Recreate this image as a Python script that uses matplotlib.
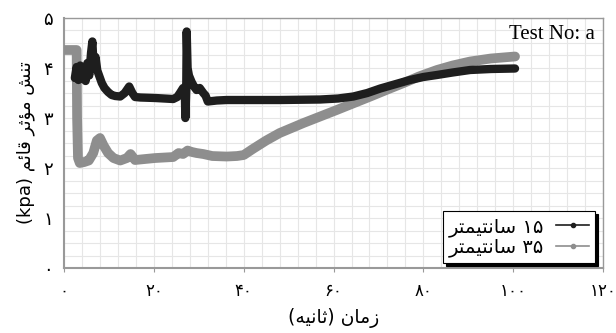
import matplotlib
matplotlib.use("Agg")
import matplotlib.pyplot as plt
from matplotlib.lines import Line2D
from matplotlib.ticker import MultipleLocator

# ---- Persian shaping (presentation forms, visual order) ----
# isolated, final, initial, medial
FORMS = {
    "ت": "\uFE95\uFE96\uFE97\uFE98",
    "ن": "\uFEE5\uFEE6\uFEE7\uFEE8",
    "ش": "\uFEB5\uFEB6\uFEB7\uFEB8",
    "م": "\uFEE1\uFEE2\uFEE3\uFEE4",
    "ث": "\uFE99\uFE9A\uFE9B\uFE9C",
    "ق": "\uFED5\uFED6\uFED7\uFED8",
    "ئ": "\uFE89\uFE8A\uFE8B\uFE8C",
    "س": "\uFEB1\uFEB2\uFEB3\uFEB4",
    "ه": "\uFEE9\uFEEA\uFEEB\uFEEC",
    "ی": "\uFBFC\uFBFD\uFEF3\uFEF4",
    "ا": "\uFE8D\uFE8E",
    "ر": "\uFEAD\uFEAE",
    "ز": "\uFEAF\uFEB0",
    "ؤ": "\uFE85\uFE86",
}


def fa(word):
    out = []
    for i, ch in enumerate(word):
        f = FORMS[ch]
        prev = word[i - 1] if i > 0 else None
        nxt = word[i + 1] if i + 1 < len(word) else None
        jp = prev is not None and len(FORMS[prev]) == 4
        jn = len(f) == 4 and nxt is not None
        if jp and jn:
            out.append(f[3])
        elif jp:
            out.append(f[1])
        elif jn:
            out.append(f[2])
        else:
            out.append(f[0])
    return "".join(out[::-1])


# ---- data ----
x_15 = [2.4, 2.8, 3.2, 3.6, 4.0, 4.4, 4.8, 5.2, 5.6, 6.0, 6.3, 6.6, 7.0, 7.4,
        7.8, 8.4, 9.0, 9.8, 10.6, 11.4, 12.5, 13.5, 14.5, 15.2, 15.8, 17,
        20.3, 24.3, 25.2, 25.8, 26.5, 26.9, 27.0, 27.2, 27.3, 27.5, 27.8, 28.4,
        29.0, 29.5, 30.2, 31.0, 31.5, 32.0, 34, 36.2, 42, 48, 57, 61, 64.4,
        67.5, 70.4, 73.5, 77, 80, 83, 86.5, 90.4, 95, 100.4]
y_15 = [3.8, 4.02, 3.76, 4.05, 3.78, 4.0, 3.74, 4.1, 3.85, 4.3, 4.53, 4.0,
        4.22, 3.95, 3.85, 3.7, 3.6, 3.52, 3.46, 3.44, 3.43, 3.5, 3.63, 3.5,
        3.42, 3.41, 3.4, 3.38, 3.42, 3.5, 3.6, 3.45, 3.0, 3.55, 4.73, 4.0,
        3.85, 3.72, 3.62, 3.56, 3.6, 3.5, 3.45, 3.33, 3.35, 3.36, 3.36, 3.36,
        3.37, 3.39, 3.43, 3.5, 3.59, 3.67, 3.76, 3.82, 3.86, 3.91, 3.96, 3.98,
        3.99]

x_35 = [0, 2.8, 2.9, 3.1, 3.5, 4.5, 5.5, 6.5, 7.3, 8.0, 8.8, 9.8, 11, 12.5, 14,
        14.8, 15.8, 18, 20.3, 24.3, 25.5, 26.5, 27.5, 28.5, 29.5, 31, 33, 36.2,
        38.5, 40, 42, 45, 48, 53.3, 60.7, 68.2, 72, 75.6, 79, 83, 86.5, 90.4,
        95, 100.4]
y_35 = [4.36, 4.36, 3.0, 2.2, 2.1, 2.12, 2.15, 2.3, 2.55, 2.6, 2.45, 2.3, 2.2,
        2.15, 2.2, 2.28, 2.16, 2.18, 2.2, 2.22, 2.3, 2.28, 2.35, 2.32, 2.3,
        2.28, 2.24, 2.23, 2.24, 2.26, 2.38, 2.55, 2.7, 2.9, 3.16, 3.43, 3.57,
        3.7, 3.83, 3.96, 4.05, 4.13, 4.19, 4.23]

x_ticks = [0, 20, 40, 60, 80, 100, 120]
x_labels = ["۰", "۲۰", "۴۰", "۶۰", "۸۰", "۱۰۰", "۱۲۰"]
y_ticks = [0, 1, 2, 3, 4, 5]
y_labels = ["۰", "۱", "۲", "۳", "۴", "۵"]

label_15 = fa("سانتیمتر") + " ۱۵"
label_35 = fa("سانتیمتر") + " ۳۵"
x_title = "(" + fa("ثانیه") + ") " + fa("زمان")
y_title = "(kpa) " + fa("قائم") + " " + fa("مؤثر") + " " + fa("تنش")

plt.rcParams["font.family"] = ["DejaVu Sans"]

fig = plt.figure(figsize=(6.16, 3.33), dpi=100)
ax = fig.add_axes([0.104, 0.195, 0.875, 0.751])

ax.plot(x_35, y_35, color="#8e8e8e", lw=7, solid_capstyle="round",
        solid_joinstyle="round", zorder=3)
ax.plot(x_15, y_15, color="#1e1e1e", lw=6, solid_capstyle="round",
        solid_joinstyle="round", zorder=4)

ax.set_xlim(0, 120)
ax.set_ylim(0, 5)
ax.set_xticks(x_ticks)
ax.set_xticklabels(x_labels, fontsize=12)
ax.set_yticks(y_ticks)
ax.set_yticklabels(y_labels, fontsize=13)
ax.xaxis.set_minor_locator(MultipleLocator(4))
ax.yaxis.set_minor_locator(MultipleLocator(0.25))
ax.grid(which="both", color="#e6e6e6", lw=0.8)
ax.set_axisbelow(True)
ax.tick_params(axis="x", which="major", length=3, color="#999999", pad=7)
ax.tick_params(axis="y", which="major", length=0, pad=8)
ax.tick_params(which="minor", length=0)
for side in ["top", "right"]:
    ax.spines[side].set_color("#999999")
    ax.spines[side].set_linewidth(1.0)
for side in ["left", "bottom"]:
    ax.spines[side].set_color("#999999")
    ax.spines[side].set_linewidth(1.5)

ax.set_xlabel(x_title, fontsize=13.5, labelpad=6)
ax.set_ylabel(y_title, fontsize=13, labelpad=6)

ax.text(0.985, 0.935, "Test No: a", transform=ax.transAxes, ha="right",
        va="center", fontsize=15, family="Liberation Serif", zorder=6)

handles = [
    Line2D([], [], color="#1e1e1e", lw=1.2, marker="o", ms=3),
    Line2D([], [], color="#8e8e8e", lw=1.2, marker="o", ms=3),
]
leg = ax.legend(handles, [label_15, label_35], loc="lower right",
                bbox_to_anchor=(0.985, 0.02), markerfirst=False,
                fancybox=False, framealpha=1, edgecolor="black",
                shadow={"color": "black", "alpha": 1},
                fontsize=14, handlelength=1.7, handletextpad=0.6,
                borderpad=0.3, labelspacing=0.05, borderaxespad=0)
leg.get_frame().set_linewidth(0.8)
leg.set_zorder(7)

fig.savefig("out.png", dpi=100)
